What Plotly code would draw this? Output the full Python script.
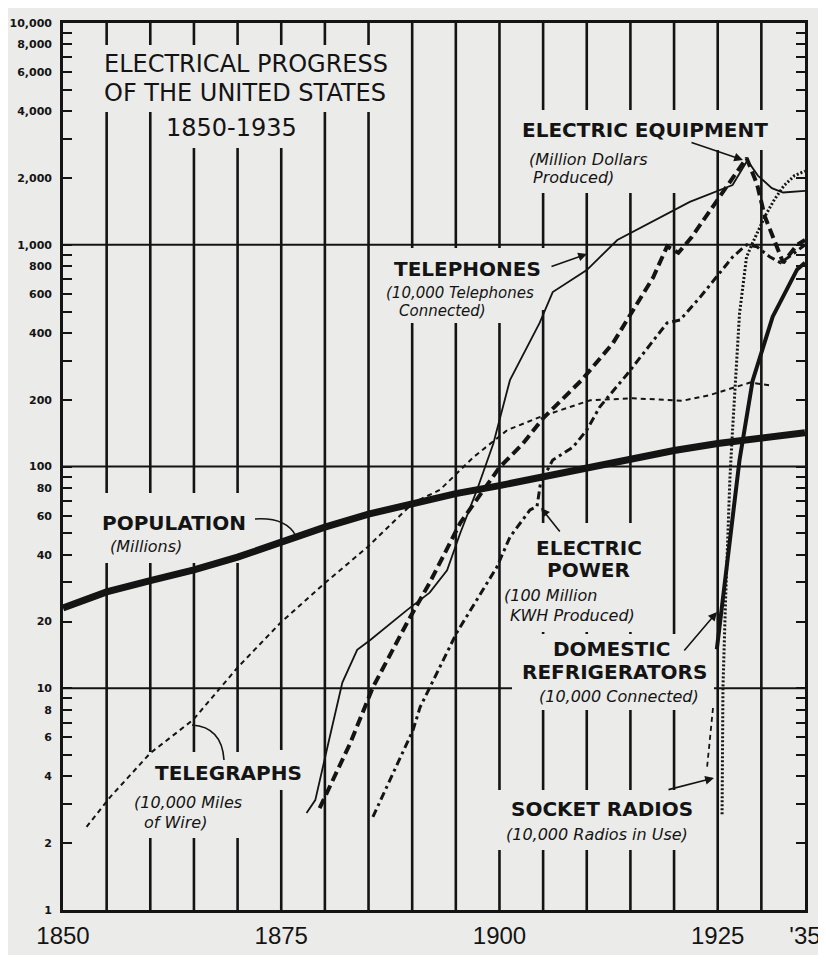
import plotly.graph_objects as go

# ---------------- data ----------------
POP_YEARS = [1850, 1855, 1860, 1865, 1870, 1875, 1880, 1885, 1890, 1895, 1900, 1905,
             1910, 1915, 1920, 1925, 1930, 1935]
POP_VALUES = [23.0, 27.2, 30.6, 34.2, 39.0, 45.7, 53.3, 61.0, 68.5, 75.5, 82.0, 90.0,
              99.0, 108, 118, 127, 135, 142]

TELEGRAPH_YEARS = [1852.7, 1855.4, 1860, 1864.9, 1870, 1874.9, 1880, 1884.9, 1890.1,
                   1893.2, 1897, 1900.9, 1904.6, 1910.4, 1915.3, 1921, 1924.1, 1928.7, 1931]
TELEGRAPH_VALUES = [2.37, 3.23, 5.1, 7.2, 12.4, 19.7, 29.8, 43.4, 68.5,
                    78.6, 110, 146, 167, 199, 203, 198, 210, 239, 232]

TELEPHONE_YEARS = [1877.9, 1878.9, 1880.4, 1882.0, 1883.7, 1885.2, 1889.4, 1892, 1894,
                   1895.5, 1897.4, 1899.3, 1901.2, 1904.6, 1906.1, 1910, 1913.5, 1921.8,
                   1926.7, 1928.4, 1929.6, 1931.2, 1932.5, 1935]
TELEPHONE_VALUES = [2.74, 3.13, 5.66, 10.6, 14.9, 16.5, 22.5, 27, 34,
                    50, 78, 127, 245, 444, 612, 769, 1050, 1560,
                    1860, 2400, 2050, 1800, 1720, 1750]

EQUIP_YEARS = [1879.4, 1882.9, 1885.5, 1889.4, 1892, 1895.5, 1900, 1902.7, 1905, 1909.4,
               1913, 1915.3, 1917.6, 1919.2, 1920.5, 1922, 1925.3, 1926.7, 1928.3,
               1929.5, 1930.4, 1931, 1931.8, 1932.5, 1934.1, 1935]
EQUIP_VALUES = [2.88, 5.65, 10.1, 19.7, 29.9, 55.6, 99, 127, 165, 245,
                360, 509, 712, 983, 920, 1080, 1650, 2000, 2460,
                1880, 1340, 1170, 980, 830, 1000, 1050]

POWER_YEARS = [1885.5, 1890.1, 1890.9, 1894.3, 1895.1, 1899.7, 1901.2, 1903.5, 1904.3,
               1904.7, 1906.1, 1908.4, 1910, 1911.5, 1914.6, 1919.2, 1920.7, 1923,
               1926.7, 1928.3, 1929.5, 1931, 1932.2, 1933.5, 1935]
POWER_VALUES = [2.63, 6.48, 8.2, 15.4, 17.8, 35.2, 48.1, 63.7, 66,
                84, 107, 122, 146, 186, 260, 444, 458, 581,
                880, 1000, 980, 880, 830, 900, 1000]

RADIO_YEARS = [1925.5, 1925.6, 1925.9, 1926.4, 1926.7, 1927.2, 1927.5, 1928.3, 1928.9,
               1930.4, 1931.5, 1932.6, 1933.8, 1935]
RADIO_VALUES = [2.7, 10, 25, 89, 146, 294, 490, 880, 1000,
                1340, 1600, 1850, 2050, 2150]

FRIDGE_YEARS = [1924.9, 1926.1, 1927.5, 1929, 1931.3, 1934.1, 1935]
FRIDGE_VALUES = [15, 38, 107, 244, 474, 774, 830]

X_TICK_VALS = [1850, 1875, 1900, 1925, 1935]
X_TICK_TEXT = ["1850", "1875", "1900", "1925", "'35"]
GRID_YEARS = list(range(1855, 1935, 5))
DECADE_LINES = [10, 100, 1000]
Y_TICK_VALS = [m * 10 ** e for e in range(4) for m in range(1, 10)] + [10000]
Y_LABELLED = [1, 2, 4, 6, 8]
Y_TICK_TEXT = [f"{v:,}" if int(str(v)[0]) in Y_LABELLED else "" for v in Y_TICK_VALS]

# ---------------- style ----------------
WIN_W, WIN_H = 826, 963
PAGE = 8                       # default body margin of the html page
L, R, T, B = 63, 805, 23, 910  # plot box, in window pixels
FIG_W = WIN_W - PAGE
FIG_H = WIN_H - 2 * PAGE
BG = "#ebebe9"
INK = "#141414"
FONT = "DejaVu Sans"


def px(x, y):
    return (x - L) / (R - L), (B - y) / (B - T)


fig = go.Figure()


def add_series(years, values, width, dash):
    fig.add_trace(go.Scatter(x=years, y=values, mode="lines",
                             line=dict(color=INK, width=width, dash=dash),
                             showlegend=False, hoverinfo="skip"))


add_series(TELEGRAPH_YEARS, TELEGRAPH_VALUES, 2.0, "5px,4px")
add_series(TELEPHONE_YEARS, TELEPHONE_VALUES, 1.8, "solid")
add_series(POWER_YEARS, POWER_VALUES, 3.0, "8px,4px,3px,4px")
add_series(EQUIP_YEARS, EQUIP_VALUES, 4.0, "10px,5px")
add_series(RADIO_YEARS, RADIO_VALUES, 3.0, "2px,2px")
add_series(FRIDGE_YEARS, FRIDGE_VALUES, 4.0, "solid")
add_series(POP_YEARS, POP_VALUES, 7.0, "solid")

shapes = []
for yr in GRID_YEARS:
    shapes.append(dict(type="line", xref="x", yref="paper", x0=yr, x1=yr, y0=0, y1=1,
                       line=dict(color=INK, width=2.6), layer="below"))
for v in DECADE_LINES:
    shapes.append(dict(type="line", xref="paper", yref="y", x0=0, x1=1, y0=v, y1=v,
                       line=dict(color=INK, width=2.0), layer="below"))

# blank boxes behind lettering (gaps in the ruling)
GAP_BOXES = [(90, 45, 395, 112), (170, 112, 300, 148),
             (505, 110, 790, 150), (520, 150, 690, 193),
             (380, 248, 520, 323), (520, 248, 552, 310),
             (95, 493, 262, 563),
             (505, 523, 660, 632), (512, 634, 714, 710),
             (126, 752, 260, 838), (260, 750, 312, 790),
             (484, 790, 712, 850)]
for x0, y0, x1, y1 in GAP_BOXES:
    a = px(x0, y1)
    b = px(x1, y0)
    shapes.append(dict(type="rect", xref="paper", yref="paper", x0=a[0], y0=a[1],
                       x1=b[0], y1=b[1], fillcolor=BG, line=dict(width=0), layer="below"))


def path_shape(points, dash="solid", width=1.6):
    p0 = px(*points[0])
    d = f"M {p0[0]},{p0[1]}"
    if len(points) == 3:
        c = px(*points[1])
        e = px(*points[2])
        d += f" Q {c[0]},{c[1]} {e[0]},{e[1]}"
    else:
        for pt in points[1:]:
            q = px(*pt)
            d += f" L {q[0]},{q[1]}"
    shapes.append(dict(type="path", xref="paper", yref="paper", path=d,
                       line=dict(color=INK, width=width, dash=dash)))


path_shape([(255, 519), (286, 517), (296, 536)])      # population connector
path_shape([(224, 760), (222, 727), (192, 725)])      # telegraphs arc
path_shape([(713, 708), (707, 768)], dash="5px,4px", width=1.8)  # radio leader

annotations = []


def label(text, x, y, size, bold=False, italic=False, xanchor="center", family=FONT):
    xp, yp = px(x, y)
    annotations.append(dict(text=text, x=xp, y=yp, xref="paper", yref="paper",
                            xanchor=xanchor, yanchor="middle", showarrow=False,
                            font=dict(family=family, size=size, color=INK,
                                      weight="bold" if bold else "normal",
                                      style="italic" if italic else "normal")))


def arrow(tail, tip):
    xp, yp = px(*tip)
    annotations.append(dict(text="", x=xp, y=yp, xref="paper", yref="paper",
                            ax=tail[0] - tip[0], ay=tail[1] - tip[1], showarrow=True,
                            arrowhead=2, arrowsize=1.1, arrowwidth=1.6, arrowcolor=INK))


label("ELECTRICAL PROGRESS", 246, 64, 24)
label("OF THE UNITED STATES", 245, 93, 24)
label("1850-1935", 231, 128, 24)

label("ELECTRIC EQUIPMENT", 645, 130, 20, bold=True)
label("(Million Dollars", 527, 160, 16, italic=True, xanchor="left")
label("Produced)", 531, 178, 16, italic=True, xanchor="left")

label("TELEPHONES", 467, 269, 20, bold=True)
label("(10,000 Telephones", 384, 293, 15, italic=True, xanchor="left")
label("Connected)", 397, 311, 15, italic=True, xanchor="left")

label("POPULATION", 100, 523, 20, bold=True, xanchor="left")
label("(Millions)", 108, 546, 16, italic=True, xanchor="left")

label("ELECTRIC", 589, 548, 20, bold=True)
label("POWER", 588, 570, 20, bold=True)
label("(100 Million", 502, 595, 16, italic=True, xanchor="left")
label("KWH Produced)", 508, 615, 16, italic=True, xanchor="left")

label("DOMESTIC", 611, 649, 20, bold=True)
label("REFRIGERATORS", 614, 672, 20, bold=True)
label("(10,000 Connected)", 619, 696, 16, italic=True)

label("TELEGRAPHS", 228, 773, 20, bold=True)
label("(10,000 Miles", 132, 802, 16, italic=True, xanchor="left")
label("of Wire)", 142, 822, 16, italic=True, xanchor="left")

label("SOCKET RADIOS", 602, 809, 20, bold=True)
label("(10,000 Radios in Use)", 597, 834, 16, italic=True)

arrow((690, 142), (743, 160))
arrow((550, 267), (587, 254))
arrow((561, 533), (541, 508))
arrow((683, 652), (717, 612))
arrow((667, 790), (714, 778))

fig.update_layout(
    width=FIG_W, height=FIG_H, autosize=False,
    margin=dict(l=L - PAGE, r=FIG_W - (R - PAGE), t=T - PAGE, b=FIG_H - (B - PAGE), pad=0),
    paper_bgcolor=BG, plot_bgcolor=BG,
    shapes=shapes, annotations=annotations, showlegend=False,
    xaxis=dict(range=[1850, 1935], tickvals=X_TICK_VALS, ticktext=X_TICK_TEXT,
               showgrid=False, zeroline=False, showline=True, linecolor=INK, linewidth=2.6,
               mirror=True, ticks="", ticklabelstandoff=2, automargin=False,
               tickfont=dict(family="Liberation Sans", size=24, color=INK)),
    yaxis=dict(type="log", range=[0, 4], tickvals=Y_TICK_VALS, ticktext=Y_TICK_TEXT,
               showgrid=False, zeroline=False, showline=True, linecolor=INK, linewidth=2.6,
               mirror="ticks", ticks="inside", ticklen=9, tickwidth=2, tickcolor=INK,
               ticklabelstandoff=6, automargin=False,
               tickfont=dict(family=FONT, size=11, color=INK, weight="bold")),
)

fig.write_html("out.html")
